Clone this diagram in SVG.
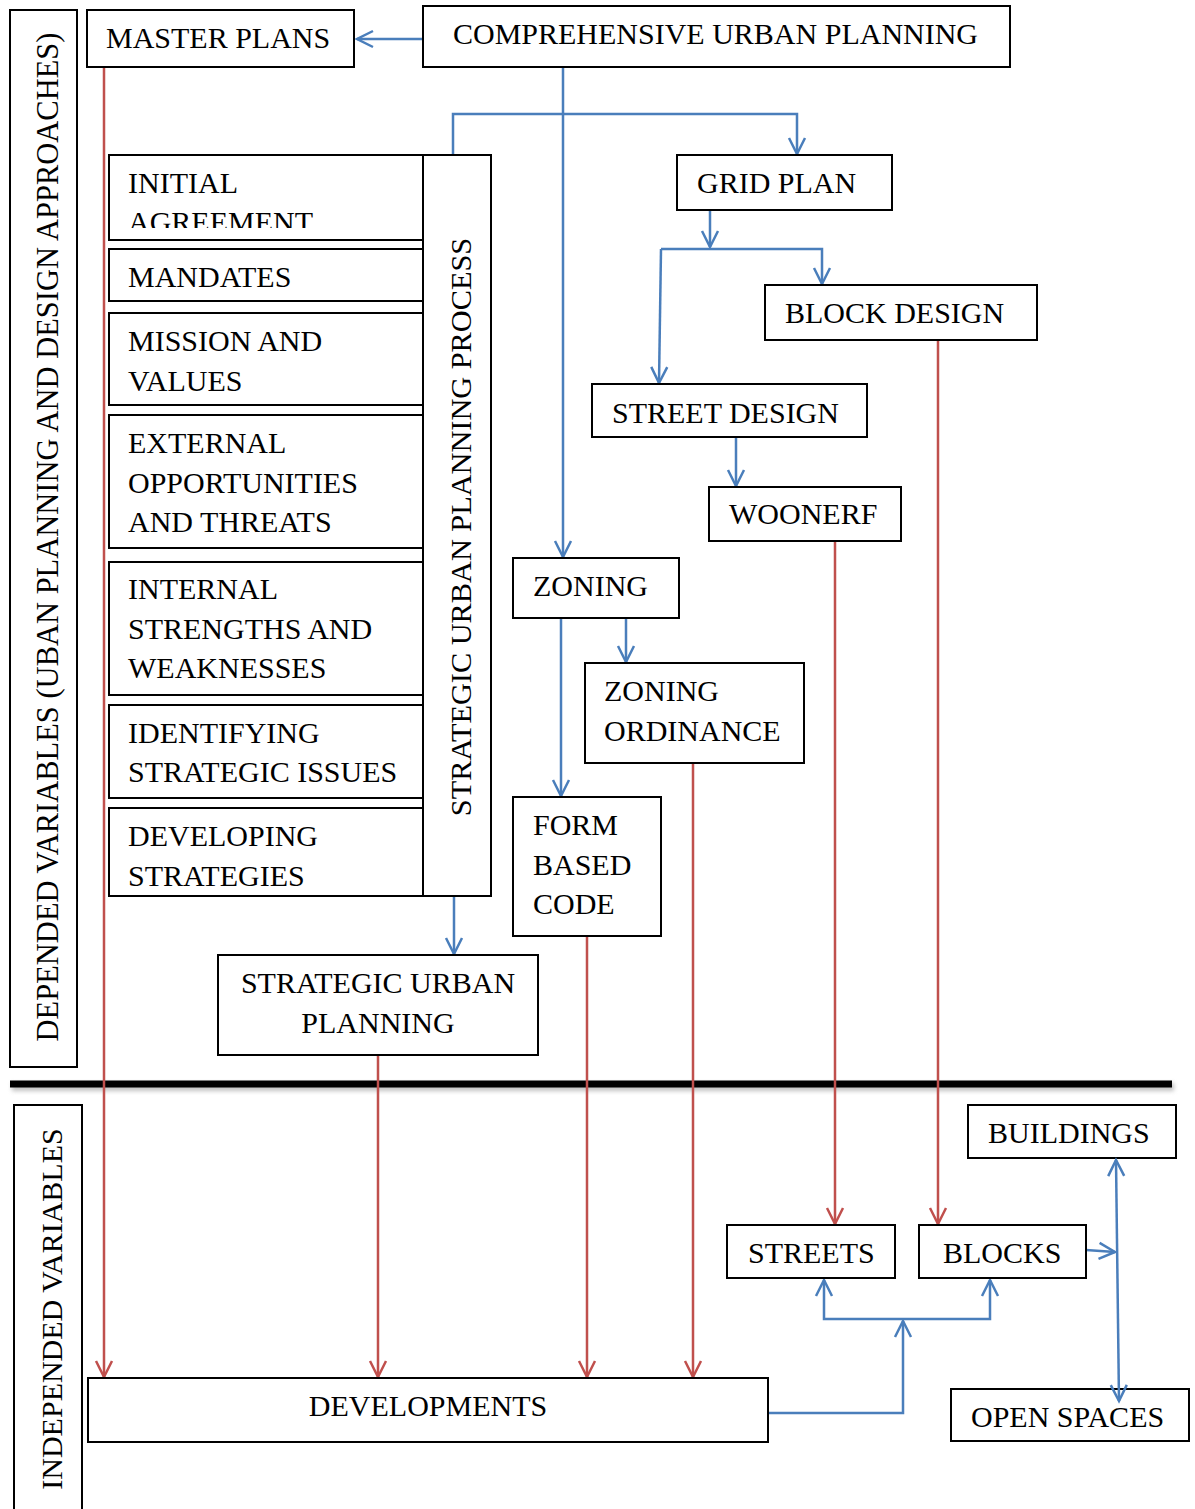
<svg xmlns="http://www.w3.org/2000/svg" width="1195" height="1509" viewBox="0 0 1195 1509" font-family="'Liberation Serif', 'DejaVu Serif', 'Times New Roman', serif">
<style>
.box{fill:#fff;stroke:#000;stroke-width:2}
.t{font-family:'Liberation Serif','DejaVu Serif','Times New Roman',serif;font-size:30px;fill:#000}
.b{fill:none;stroke:#4a7ebb;stroke-width:2.5}
.r{fill:none;stroke:#c0504d;stroke-width:2.5}
</style>
<defs>
<marker id="ab" markerUnits="userSpaceOnUse" markerWidth="40" markerHeight="40" viewBox="-20 -20 40 40" refX="0" refY="0" orient="auto-start-reverse" overflow="visible">
<path d="M-16,-8 L0,0 L-16,8" fill="none" stroke="#4a7ebb" stroke-width="2.5"/>
</marker>
<marker id="ar" markerUnits="userSpaceOnUse" markerWidth="40" markerHeight="40" viewBox="-20 -20 40 40" refX="0" refY="0" orient="auto" overflow="visible">
<path d="M-16,-8 L0,0 L-16,8" fill="none" stroke="#c0504d" stroke-width="2.5"/>
</marker>
<clipPath id="clipInit"><rect x="109" y="155" width="314" height="73"/></clipPath>
<filter id="sh" x="-5%" y="-200%" width="110%" height="500%"><feGaussianBlur stdDeviation="2"/></filter>
</defs>

<g id="dependent-label">
<rect class="box" x="10" y="10" width="67" height="1057"/>
<text class="t" style="font-size:30.5px" transform="translate(58,537) rotate(-90)" text-anchor="middle">DEPENDED VARIABLES (UBAN PLANNING AND DESIGN APPROACHES)</text>
</g>

<g id="divider">
<rect x="12" y="1083" width="1162" height="8" fill="#999" opacity="0.6" filter="url(#sh)"/>
<line x1="10" y1="1084" x2="1172" y2="1084" stroke="#000" stroke-width="7"/>
</g>

<g id="independent-label">
<path class="box" d="M14,1509 L14,1105 L82,1105 L82,1509"/>
<text class="t" transform="translate(62,1309) rotate(-90)" text-anchor="middle">INDEPENDED VARIABLES</text>
</g>

<g id="connectors">
<line class="b" x1="423" y1="39" x2="357" y2="39" marker-end="url(#ab)"/>
<line class="b" x1="563" y1="67" x2="563" y2="557" marker-end="url(#ab)"/>
<polyline class="b" points="453,155 453,114 797,114 797,154" marker-end="url(#ab)"/>
<line class="b" x1="710" y1="210" x2="710" y2="247" marker-end="url(#ab)"/>
<polyline class="b" points="661,249 822,249 822,284" marker-end="url(#ab)"/>
<polyline class="b" points="661,249 659,383" marker-end="url(#ab)"/>
<line class="b" x1="736" y1="437" x2="736" y2="486" marker-end="url(#ab)"/>
<line class="b" x1="626" y1="618" x2="626" y2="662" marker-end="url(#ab)"/>
<line class="b" x1="561" y1="618" x2="561" y2="796" marker-end="url(#ab)"/>
<line class="b" x1="454" y1="896" x2="454" y2="954" marker-end="url(#ab)"/>
<polyline class="b" points="768,1413 903,1413 903,1321" marker-end="url(#ab)"/>
<polyline class="b" points="824,1280 824,1319 990,1319 990,1280" marker-start="url(#ab)" marker-end="url(#ab)"/>
<line class="b" x1="1086" y1="1250" x2="1115" y2="1252" marker-end="url(#ab)"/>
<line class="r" x1="104" y1="67" x2="104" y2="1377" marker-end="url(#ar)"/>
<line class="r" x1="378" y1="1055" x2="378" y2="1377" marker-end="url(#ar)"/>
<line class="r" x1="587" y1="936" x2="587" y2="1377" marker-end="url(#ar)"/>
<line class="r" x1="693" y1="763" x2="693" y2="1377" marker-end="url(#ar)"/>
<line class="r" x1="835" y1="541" x2="835" y2="1224" marker-end="url(#ar)"/>
<line class="r" x1="938" y1="340" x2="938" y2="1224" marker-end="url(#ar)"/>
</g>

<g id="master-plans">
<rect class="box" x="87" y="10" width="267" height="57"/>
<text class="t" x="106" y="48">MASTER PLANS</text>
</g>
<g id="comprehensive">
<rect class="box" x="423" y="6" width="587" height="61"/>
<text class="t" x="453" y="44">COMPREHENSIVE URBAN PLANNING</text>
</g>

<g id="strategic-process">
<rect class="box" x="423" y="155" width="68" height="741"/>
<text class="t" style="font-size:30.3px" transform="translate(471,527) rotate(-90)" text-anchor="middle">STRATEGIC URBAN PLANNING PROCESS</text>
</g>
<g id="initial-agreement">
<rect class="box" x="109" y="155" width="314" height="85"/>
<g clip-path="url(#clipInit)"><text class="t" x="128" y="193">INITIAL</text><text class="t" x="128" y="232">AGREEMENT</text></g>
</g>
<g id="mandates">
<rect class="box" x="109" y="249" width="314" height="52"/>
<text class="t" x="128" y="287">MANDATES</text>
</g>
<g id="mission">
<rect class="box" x="109" y="313" width="314" height="92"/>
<text class="t" x="128" y="351">MISSION AND</text><text class="t" x="128" y="391">VALUES</text>
</g>
<g id="external">
<rect class="box" x="109" y="415" width="314" height="133"/>
<text class="t" x="128" y="453">EXTERNAL</text><text class="t" x="128" y="493">OPPORTUNITIES</text><text class="t" x="128" y="532">AND THREATS</text>
</g>
<g id="internal">
<rect class="box" x="109" y="562" width="314" height="133"/>
<text class="t" x="128" y="599">INTERNAL</text><text class="t" x="128" y="639">STRENGTHS AND</text><text class="t" x="128" y="678">WEAKNESSES</text>
</g>
<g id="identifying">
<rect class="box" x="109" y="705" width="314" height="93"/>
<text class="t" x="128" y="743">IDENTIFYING</text><text class="t" x="128" y="782">STRATEGIC ISSUES</text>
</g>
<g id="developing">
<rect class="box" x="109" y="808" width="314" height="88"/>
<text class="t" x="128" y="846">DEVELOPING</text><text class="t" x="128" y="886">STRATEGIES</text>
</g>
<g id="strategic-urban-planning">
<rect class="box" x="218" y="955" width="320" height="100"/>
<text class="t" x="378" y="993" text-anchor="middle">STRATEGIC URBAN</text><text class="t" x="378" y="1033" text-anchor="middle">PLANNING</text>
</g>

<g id="grid-plan">
<rect class="box" x="677" y="155" width="215" height="55"/>
<text class="t" x="697" y="193">GRID PLAN</text>
</g>
<g id="block-design">
<rect class="box" x="765" y="285" width="272" height="55"/>
<text class="t" x="785" y="323">BLOCK DESIGN</text>
</g>
<g id="street-design">
<rect class="box" x="592" y="384" width="275" height="53"/>
<text class="t" x="612" y="423">STREET DESIGN</text>
</g>
<g id="woonerf">
<rect class="box" x="709" y="487" width="192" height="54"/>
<text class="t" x="729" y="524">WOONERF</text>
</g>
<g id="zoning">
<rect class="box" x="513" y="558" width="166" height="60"/>
<text class="t" x="533" y="596">ZONING</text>
</g>
<g id="zoning-ordinance">
<rect class="box" x="585" y="663" width="219" height="100"/>
<text class="t" x="604" y="701">ZONING</text><text class="t" x="604" y="741">ORDINANCE</text>
</g>
<g id="form-based-code">
<rect class="box" x="513" y="797" width="148" height="139"/>
<text class="t" x="533" y="835">FORM</text><text class="t" x="533" y="875">BASED</text><text class="t" x="533" y="914">CODE</text>
</g>

<g id="developments">
<rect class="box" x="88" y="1378" width="680" height="64"/>
<text class="t" x="428" y="1416" text-anchor="middle">DEVELOPMENTS</text>
</g>
<g id="streets">
<rect class="box" x="727" y="1225" width="168" height="53"/>
<text class="t" x="748" y="1263">STREETS</text>
</g>
<g id="blocks">
<rect class="box" x="919" y="1225" width="167" height="53"/>
<text class="t" x="943" y="1263">BLOCKS</text>
</g>
<g id="buildings">
<rect class="box" x="968" y="1105" width="208" height="53"/>
<text class="t" x="988" y="1143">BUILDINGS</text>
</g>
<g id="open-spaces">
<rect class="box" x="951" y="1389" width="238" height="52"/>
<text class="t" x="971" y="1427">OPEN SPACES</text>
</g>
<g id="connectors-over">
<line class="b" x1="1116" y1="1160" x2="1119" y2="1401" marker-start="url(#ab)" marker-end="url(#ab)"/>
</g>
</svg>
